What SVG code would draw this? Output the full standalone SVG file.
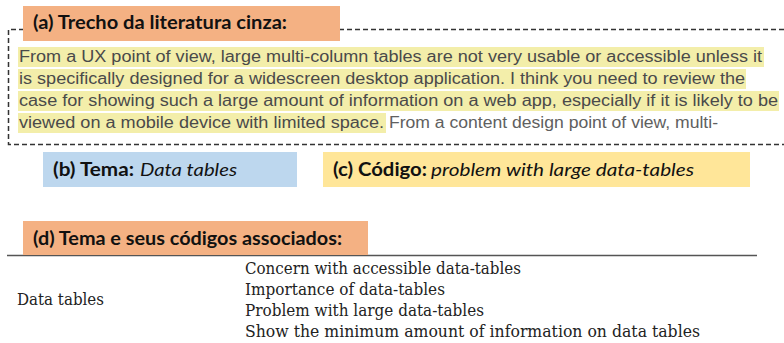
<svg xmlns="http://www.w3.org/2000/svg" width="784" height="343" viewBox="0 0 784 343">
<style>
.hdr{font-family:Lato,"Open Sans",sans-serif;font-weight:bold;font-size:18px;fill:#111}
.it{font-family:Lato,"Open Sans",sans-serif;font-style:italic;font-size:18px;fill:#111}
.ux{font-family:"Liberation Sans",Arial,sans-serif;font-size:16px;fill:#4a4a4a}
.ux2{font-family:"Liberation Sans",Arial,sans-serif;font-size:16px;fill:#606060}
.hl{fill:#f3eeaa}
.tb{font-family:"DejaVu Serif",serif;font-size:16.5px;fill:#222}
</style>
<rect width="784" height="343" fill="#ffffff"/>
<g id="excerpt">
  <path d="M784 29.5 H8.5 V144.5 H784" fill="none" stroke="#333" stroke-width="1.5" stroke-dasharray="5 3"/>
  <rect class="hl" x="18" y="47" width="746" height="20"/>
  <rect class="hl" x="18" y="69" width="728" height="20"/>
  <rect class="hl" x="18" y="91" width="761" height="20"/>
  <rect class="hl" x="18" y="113" width="368" height="20"/>
  <text class="ux" x="19" y="62" textLength="743" lengthAdjust="spacingAndGlyphs">From a UX point of view, large multi-column tables are not very usable or accessible unless it</text>
  <text class="ux" x="19" y="84" textLength="726" lengthAdjust="spacingAndGlyphs">is specifically designed for a widescreen desktop application. I think you need to review the</text>
  <text class="ux" x="19" y="106" textLength="759" lengthAdjust="spacingAndGlyphs">case for showing such a large amount of information on a web app, especially if it is likely to be</text>
  <text class="ux" x="19" y="128" textLength="365" lengthAdjust="spacingAndGlyphs">viewed on a mobile device with limited space.</text>
  <text class="ux2" x="389" y="128" textLength="329" lengthAdjust="spacingAndGlyphs">From a content design point of view, multi-</text>
</g>
<g id="label-a">
  <rect x="23" y="6" width="317" height="35" fill="#f4b183"/>
  <text class="hdr" x="33" y="29" textLength="254" lengthAdjust="spacingAndGlyphs">(a) Trecho da literatura cinza:</text>
</g>
<g id="label-b">
  <rect x="43" y="152" width="254" height="35" fill="#bdd7ee"/>
  <text class="hdr" x="53" y="176" textLength="81" lengthAdjust="spacingAndGlyphs">(b) Tema:</text>
  <text class="it" x="140" y="176" textLength="97" lengthAdjust="spacingAndGlyphs">Data tables</text>
</g>
<g id="label-c">
  <rect x="323" y="152" width="427" height="35" fill="#ffe699"/>
  <text class="hdr" x="333" y="176" textLength="94" lengthAdjust="spacingAndGlyphs">(c) Código:</text>
  <text class="it" x="431" y="176" textLength="263" lengthAdjust="spacingAndGlyphs">problem with large data-tables</text>
</g>
<g id="table">
  <line x1="7" y1="255.5" x2="757" y2="255.5" stroke="#555" stroke-width="1.5"/>
  <text class="tb" x="17" y="305" textLength="87" lengthAdjust="spacingAndGlyphs">Data tables</text>
  <text class="tb" x="245" y="274" textLength="276" lengthAdjust="spacingAndGlyphs">Concern with accessible data-tables</text>
  <text class="tb" x="245" y="295" textLength="200" lengthAdjust="spacingAndGlyphs">Importance of data-tables</text>
  <text class="tb" x="245" y="316" textLength="239" lengthAdjust="spacingAndGlyphs">Problem with large data-tables</text>
  <text class="tb" x="245" y="337" textLength="455" lengthAdjust="spacingAndGlyphs">Show the minimum amount of information on data tables</text>
</g>
<g id="label-d">
  <rect x="23" y="221" width="345" height="34" fill="#f4b183"/>
  <text class="hdr" x="33" y="245" textLength="309" lengthAdjust="spacingAndGlyphs">(d) Tema e seus códigos associados:</text>
</g>
</svg>
